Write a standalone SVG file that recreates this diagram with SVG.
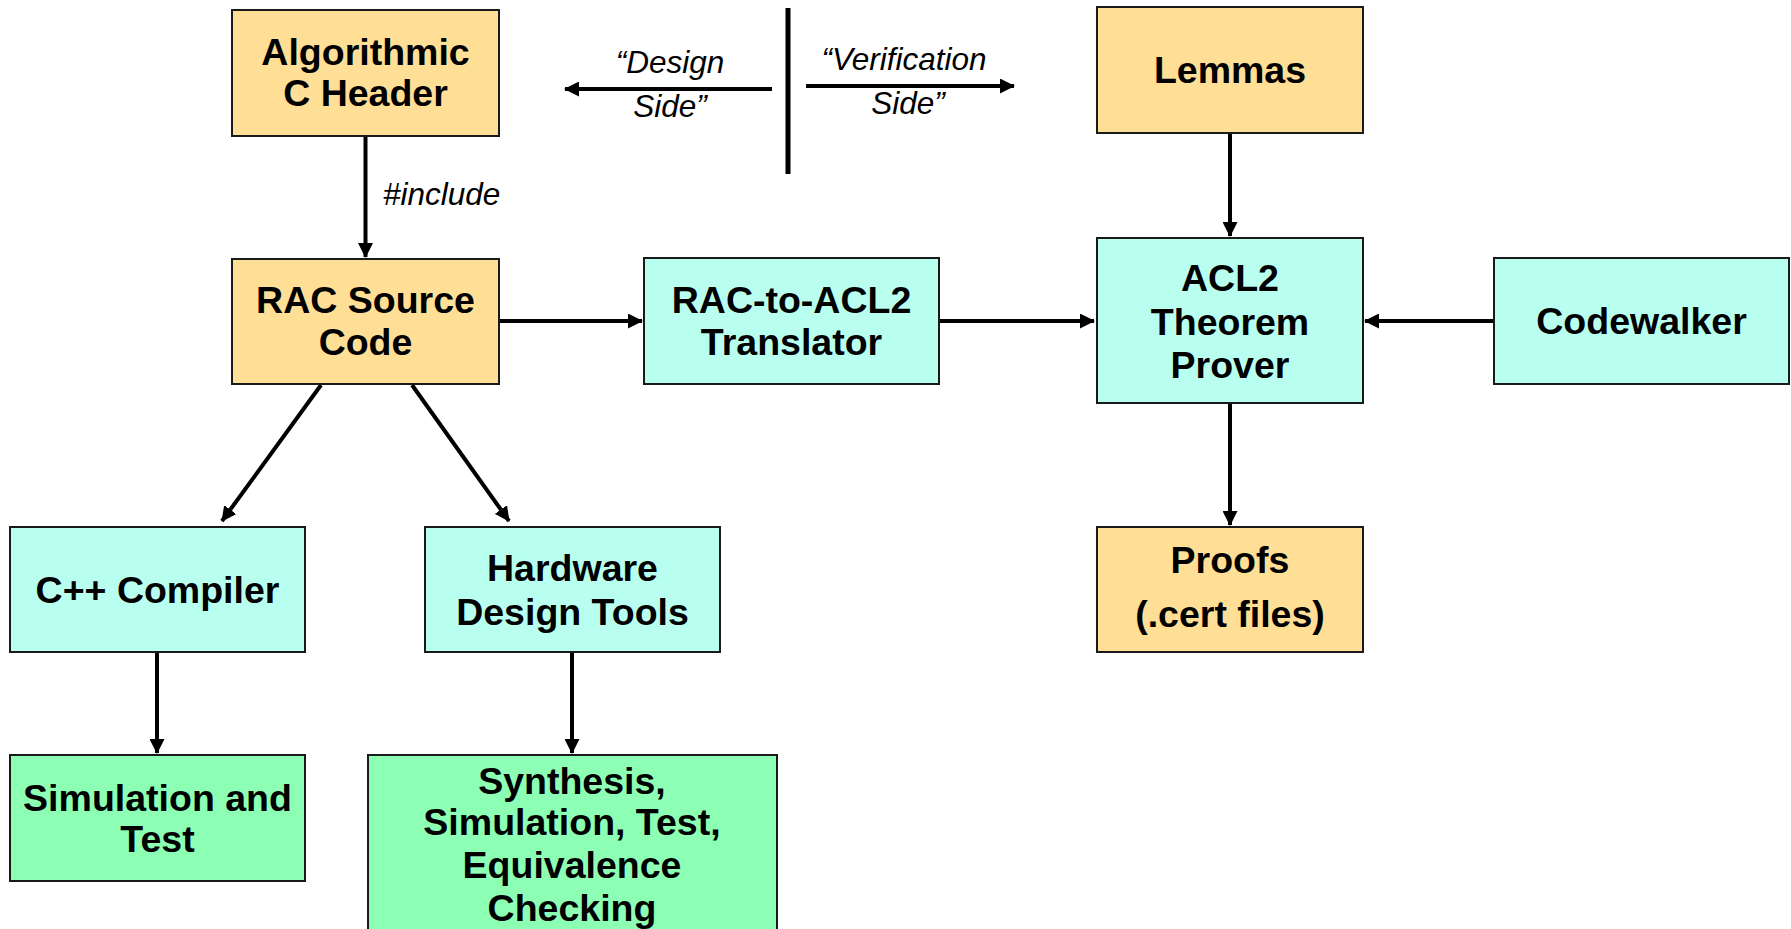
<svg xmlns="http://www.w3.org/2000/svg" width="1791" height="929" viewBox="0 0 1791 929">
<defs>
<style>
.box{stroke:#1a1a1a;stroke-width:2}
.o{fill:#FFDE96}
.c{fill:#B8FFF0}
.g{fill:#8CFFB4}
.t{font-family:"Liberation Sans",Arial,sans-serif;font-weight:bold;font-size:37.5px;fill:#000;text-anchor:middle}
.i{font-family:"Liberation Sans",Arial,sans-serif;font-style:italic;font-size:31.5px;fill:#000}
.ln{stroke:#000;stroke-width:4;fill:none}
</style>
<marker id="ah" markerUnits="userSpaceOnUse" markerWidth="15" markerHeight="15" refX="14" refY="7.5" orient="auto" viewBox="0 0 15 15">
<path d="M0,0 L15,7.5 L0,15 z" fill="#000"/>
</marker>
</defs>
<rect width="1791" height="929" fill="#fff"/>

<g id="connectors">
<line class="ln" x1="365.5" y1="136" x2="365.5" y2="257" marker-end="url(#ah)"/>
<line class="ln" x1="499" y1="321" x2="642" y2="321" marker-end="url(#ah)"/>
<line class="ln" x1="939" y1="321" x2="1094" y2="321" marker-end="url(#ah)"/>
<line class="ln" x1="1494" y1="321" x2="1365" y2="321" marker-end="url(#ah)"/>
<line class="ln" x1="1230" y1="133" x2="1230" y2="236" marker-end="url(#ah)"/>
<line class="ln" x1="1230" y1="403" x2="1230" y2="525" marker-end="url(#ah)"/>
<line class="ln" x1="321" y1="385" x2="222" y2="521" marker-end="url(#ah)"/>
<line class="ln" x1="412" y1="385" x2="509" y2="521" marker-end="url(#ah)"/>
<line class="ln" x1="157" y1="652" x2="157" y2="753" marker-end="url(#ah)"/>
<line class="ln" x1="572" y1="652" x2="572" y2="753" marker-end="url(#ah)"/>
<line class="ln" x1="772" y1="89" x2="565" y2="89" marker-end="url(#ah)"/>
<line class="ln" x1="806" y1="86" x2="1014" y2="86" marker-end="url(#ah)"/>
<line x1="788" y1="8" x2="788" y2="174" stroke="#000" stroke-width="5"/>
<text class="i" x="670" y="73" text-anchor="middle">“Design</text>
<text class="i" x="670" y="117" text-anchor="middle">Side”</text>
<text class="i" x="904" y="70" text-anchor="middle">“Verification</text>
<text class="i" x="908" y="114" text-anchor="middle">Side”</text>
<text class="i" x="383" y="205">#include</text>
</g>

<g id="algorithmic">
<rect class="box o" x="232" y="10" width="267" height="126"/>
<text class="t" x="365.5" y="65">Algorithmic</text>
<text class="t" x="365.5" y="106">C Header</text>
</g>
<g id="lemmas">
<rect class="box o" x="1097" y="7" width="266" height="126"/>
<text class="t" x="1230" y="83">Lemmas</text>
</g>
<g id="rac-source">
<rect class="box o" x="232" y="259" width="267" height="125"/>
<text class="t" x="365.5" y="313">RAC Source</text>
<text class="t" x="365.5" y="355">Code</text>
</g>
<g id="translator">
<rect class="box c" x="644" y="258" width="295" height="126"/>
<text class="t" x="791.5" y="313">RAC-to-ACL2</text>
<text class="t" x="791.5" y="355">Translator</text>
</g>
<g id="acl2">
<rect class="box c" x="1097" y="238" width="266" height="165"/>
<text class="t" x="1230" y="291">ACL2</text>
<text class="t" x="1230" y="335">Theorem</text>
<text class="t" x="1230" y="378">Prover</text>
</g>
<g id="codewalker">
<rect class="box c" x="1494" y="258" width="295" height="126"/>
<text class="t" x="1641.5" y="334">Codewalker</text>
</g>
<g id="cpp">
<rect class="box c" x="10" y="527" width="295" height="125"/>
<text class="t" x="157.5" y="603">C++ Compiler</text>
</g>
<g id="hw">
<rect class="box c" x="425" y="527" width="295" height="125"/>
<text class="t" x="572.5" y="581">Hardware</text>
<text class="t" x="572.5" y="625">Design Tools</text>
</g>
<g id="proofs">
<rect class="box o" x="1097" y="527" width="266" height="125"/>
<text class="t" x="1230" y="573">Proofs</text>
<text class="t" x="1230" y="627">(.cert files)</text>
</g>
<g id="simtest">
<rect class="box g" x="10" y="755" width="295" height="126"/>
<text class="t" x="157.5" y="811">Simulation and</text>
<text class="t" x="157.5" y="852">Test</text>
</g>
<g id="synthesis">
<rect class="box g" x="368" y="755" width="409" height="190"/>
<text class="t" x="572" y="794">Synthesis,</text>
<text class="t" x="572" y="835">Simulation, Test,</text>
<text class="t" x="572" y="878">Equivalence</text>
<text class="t" x="572" y="921">Checking</text>
</g>
</svg>
